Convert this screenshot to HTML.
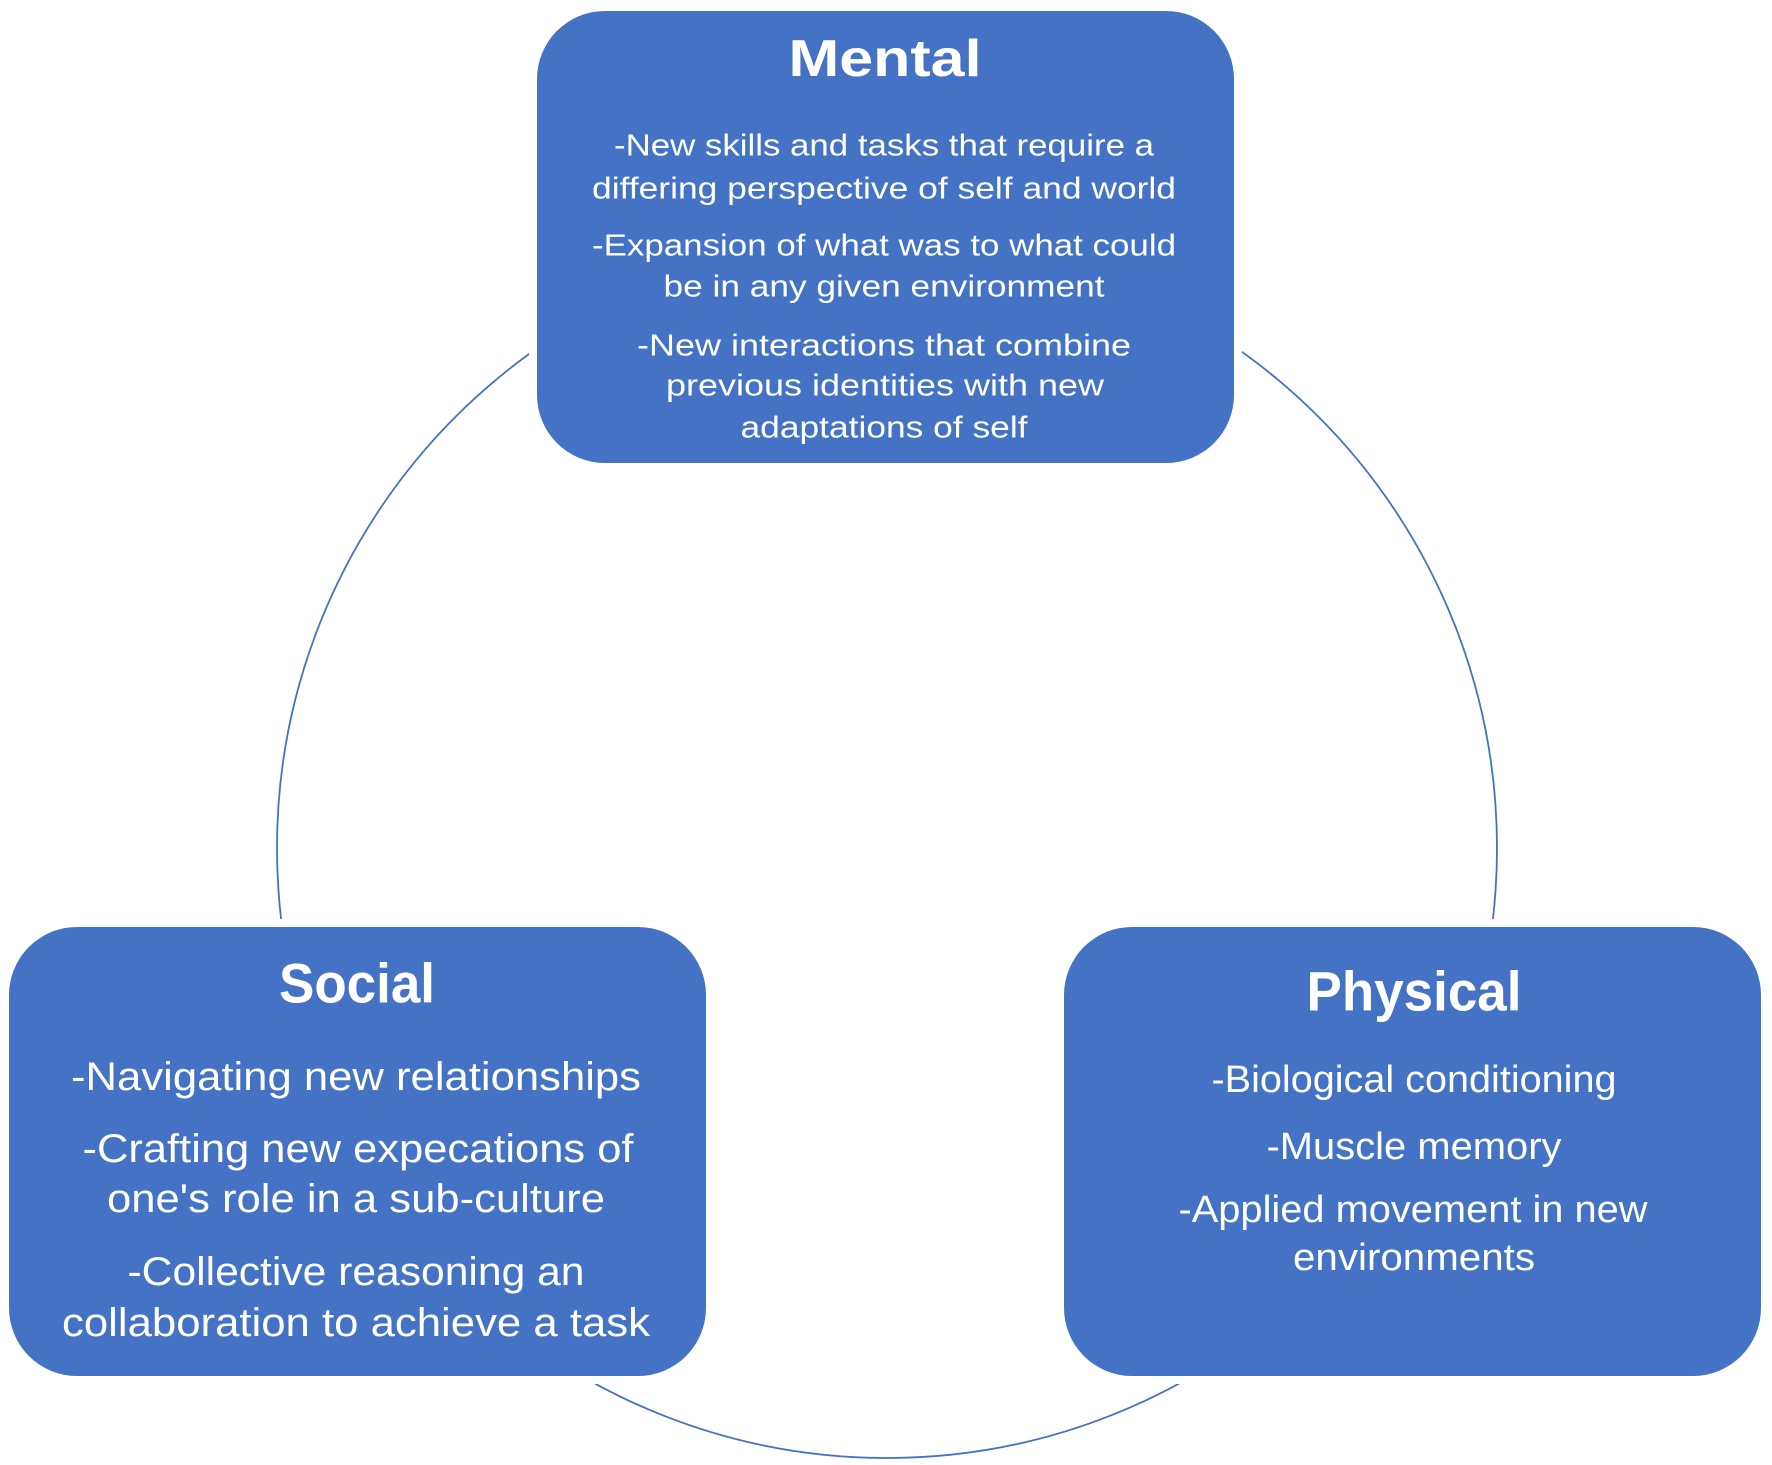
<!DOCTYPE html>
<html><head><meta charset="utf-8"><style>
html,body{margin:0;padding:0;background:#fff;}
svg{display:block;}
text{font-family:"Liberation Sans",sans-serif;fill:#fff;}
</style></head><body>
<svg width="1772" height="1465" viewBox="0 0 1772 1465" xmlns="http://www.w3.org/2000/svg">
<circle cx="887" cy="848" r="610" fill="none" stroke="#4472C4" stroke-width="1.8"/>
<rect x="529" y="3" width="713" height="468" fill="#fff"/>
<rect x="1" y="919" width="713" height="465" fill="#fff"/>
<rect x="1056" y="919" width="713" height="465" fill="#fff"/>
<rect x="537" y="11" width="697" height="452" rx="68" fill="#4472C4"/>
<rect x="9" y="927" width="697" height="449" rx="68" fill="#4472C4"/>
<rect x="1064" y="927" width="697" height="449" rx="68" fill="#4472C4"/>
<g text-anchor="middle" dominant-baseline="central">
<text x="885" y="59" font-size="52" font-weight="bold" textLength="193" lengthAdjust="spacingAndGlyphs">Mental</text>
<g font-size="31">
<text x="884" y="145" textLength="540" lengthAdjust="spacingAndGlyphs">-New skills and tasks that require a</text>
<text x="884" y="188" textLength="584" lengthAdjust="spacingAndGlyphs">differing perspective of self and world</text>
<text x="884" y="245" textLength="584" lengthAdjust="spacingAndGlyphs">-Expansion of what was to what could</text>
<text x="884" y="286" textLength="441" lengthAdjust="spacingAndGlyphs">be in any given environment</text>
<text x="884" y="345" textLength="494" lengthAdjust="spacingAndGlyphs">-New interactions that combine</text>
<text x="885" y="385" textLength="438" lengthAdjust="spacingAndGlyphs">previous identities with new</text>
<text x="884" y="427" textLength="287" lengthAdjust="spacingAndGlyphs">adaptations of self</text>
</g>
<text x="357" y="983" font-size="56" font-weight="bold" textLength="156" lengthAdjust="spacingAndGlyphs">Social</text>
<g font-size="40">
<text x="356" y="1077" textLength="570" lengthAdjust="spacingAndGlyphs">-Navigating new relationships</text>
<text x="358" y="1149" textLength="551" lengthAdjust="spacingAndGlyphs">-Crafting new expecations of</text>
<text x="356" y="1199" textLength="498" lengthAdjust="spacingAndGlyphs">one's role in a sub-culture</text>
<text x="356" y="1272" textLength="457" lengthAdjust="spacingAndGlyphs">-Collective reasoning an</text>
<text x="356" y="1323" textLength="588" lengthAdjust="spacingAndGlyphs">collaboration to achieve a task</text>
</g>
<text x="1414" y="991" font-size="56" font-weight="bold" textLength="215" lengthAdjust="spacingAndGlyphs">Physical</text>
<g font-size="38">
<text x="1414" y="1080" textLength="405" lengthAdjust="spacingAndGlyphs">-Biological conditioning</text>
<text x="1414" y="1147" textLength="295" lengthAdjust="spacingAndGlyphs">-Muscle memory</text>
<text x="1413" y="1210" textLength="469" lengthAdjust="spacingAndGlyphs">-Applied movement in new</text>
<text x="1414" y="1258" textLength="242" lengthAdjust="spacingAndGlyphs">environments</text>
</g>
</g>
</svg>
</body></html>
